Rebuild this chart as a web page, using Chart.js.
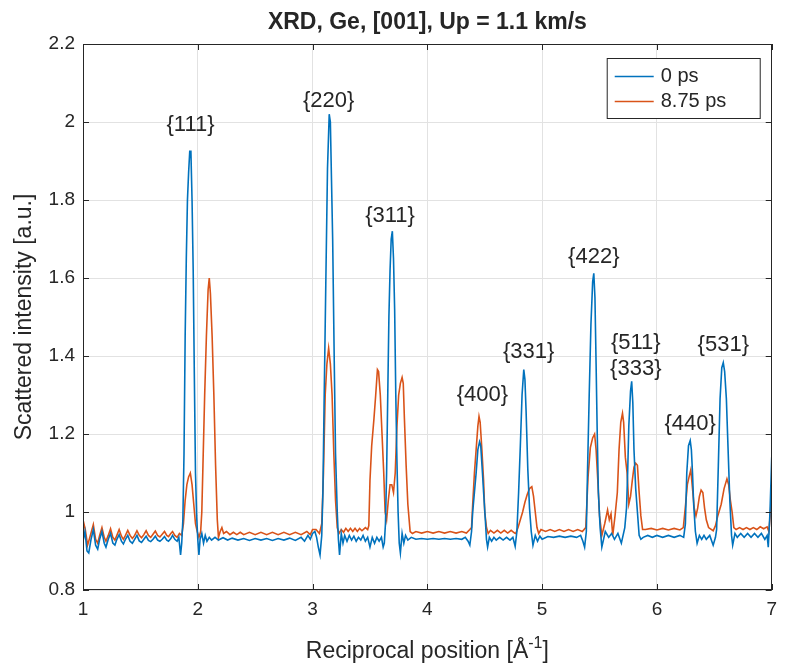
<!DOCTYPE html>
<html><head><meta charset="utf-8">
<script src="https://cdn.jsdelivr.net/npm/chart.js@4.4.1/dist/chart.umd.min.js"></script>
<style>html,body{margin:0;padding:0;background:#fff;overflow:hidden}canvas{display:block}</style>
</head><body>
<canvas id="c" width="785" height="669"></canvas>
<script>
const chartTitle = 'XRD, Ge, [001], Up = 1.1 km/s';
const xLabelMain = 'Reciprocal position [Å';
const xLabelSup = '-1';
const xLabelEnd = ']';
const yLabel = 'Scattered intensity [a.u.]';
const seriesNames = ['0 ps', '8.75 ps'];
const seriesColors = ['#0072BD', '#D95319'];
const xTicks = [1, 2, 3, 4, 5, 6, 7];
const yTicks = [0.8, 1, 1.2, 1.4, 1.6, 1.8, 2, 2.2];
const peakLabels = ['{111}', '{220}', '{311}', '{400}', '{331}', '{422}', '{511}', '{333}', '{440}', '{531}'];
const peakLabelX = [1.937, 3.14, 3.675, 4.48, 4.882, 5.45, 5.816, 5.816, 6.29, 6.578];
const peakLabelY = [1.992, 2.055, 1.759, 1.30, 1.411, 1.653, 1.4325, 1.368, 1.226, 1.428];

// [reciprocal position, intensity] for 0 ps
const blue0ps = [
[1.000,0.925],[1.017,0.95],[1.035,0.90],[1.05,0.895],[1.07,0.93],[1.09,0.955],[1.11,0.915],[1.128,0.905],
[1.145,0.93],[1.165,0.95],[1.185,0.92],[1.20,0.91],[1.22,0.93],[1.24,0.945],[1.26,0.92],[1.278,0.915],
[1.295,0.93],[1.315,0.942],[1.335,0.925],[1.352,0.918],[1.37,0.93],[1.39,0.94],[1.41,0.925],[1.43,0.92],
[1.45,0.93],[1.47,0.94],[1.49,0.926],[1.51,0.922],[1.53,0.93],[1.55,0.938],[1.57,0.927],[1.59,0.924],
[1.61,0.93],[1.63,0.938],[1.65,0.928],[1.67,0.925],[1.69,0.93],[1.71,0.937],[1.73,0.928],[1.745,0.925],
[1.765,0.932],[1.78,0.94],[1.80,0.93],[1.82,0.925],[1.835,0.935],[1.85,0.89],[1.86,0.92],[1.87,0.98],
[1.88,1.15],[1.89,1.45],[1.90,1.65],[1.91,1.80],[1.92,1.87],[1.93,1.925],[1.94,1.925],[1.95,1.80],
[1.96,1.62],[1.97,1.35],[1.98,1.10],[1.99,0.99],[2.00,0.93],[2.01,0.89],[2.02,0.93],[2.035,0.945],
[2.05,0.92],[2.065,0.94],[2.08,0.925],[2.10,0.935],[2.12,0.928],[2.15,0.935],[2.18,0.928],[2.22,0.934],
[2.26,0.928],[2.30,0.933],[2.35,0.928],[2.40,0.932],[2.45,0.927],[2.50,0.932],[2.55,0.928],[2.60,0.932],
[2.65,0.927],[2.70,0.932],[2.75,0.928],[2.80,0.933],[2.85,0.927],[2.90,0.935],[2.93,0.925],[2.96,0.94],
[2.98,0.93],[3.00,0.945],[3.02,0.95],[3.035,0.935],[3.05,0.91],[3.065,0.89],[3.08,0.94],[3.09,1.05],
[3.10,1.27],[3.115,1.58],[3.13,1.88],[3.145,2.02],[3.155,2.00],[3.165,1.85],[3.175,1.70],[3.19,1.36],
[3.20,1.15],[3.215,1.00],[3.225,0.93],[3.235,0.89],[3.25,0.945],[3.265,0.92],[3.28,0.94],[3.30,0.925],
[3.32,0.94],[3.34,0.928],[3.36,0.938],[3.38,0.925],[3.40,0.935],[3.42,0.928],[3.44,0.94],[3.46,0.925],
[3.48,0.935],[3.50,0.91],[3.52,0.935],[3.54,0.92],[3.56,0.935],[3.58,0.925],[3.60,0.935],[3.615,0.91],
[3.625,0.92],[3.635,0.97],[3.645,1.10],[3.655,1.30],[3.665,1.50],[3.675,1.62],[3.685,1.70],[3.695,1.72],
[3.705,1.65],[3.715,1.52],[3.725,1.30],[3.735,1.13],[3.745,1.00],[3.755,0.92],[3.765,0.895],[3.78,0.945],
[3.795,0.92],[3.81,0.94],[3.83,0.928],[3.86,0.935],[3.90,0.93],[3.95,0.932],[4.00,0.93],[4.05,0.932],
[4.10,0.93],[4.15,0.932],[4.20,0.93],[4.25,0.932],[4.30,0.93],[4.33,0.935],[4.355,0.925],[4.37,0.915],
[4.385,0.95],[4.395,1.00],[4.41,1.05],[4.425,1.10],[4.44,1.16],[4.455,1.18],[4.465,1.17],[4.48,1.10],
[4.49,1.05],[4.505,0.98],[4.515,0.93],[4.525,0.91],[4.54,0.935],[4.56,0.925],[4.58,0.935],[4.60,0.928],
[4.63,0.935],[4.66,0.928],[4.69,0.935],[4.72,0.928],[4.745,0.935],[4.765,0.912],[4.78,0.95],[4.795,1.05],
[4.81,1.17],[4.825,1.30],[4.84,1.365],[4.85,1.34],[4.86,1.26],[4.875,1.11],[4.89,1.01],[4.905,0.95],
[4.92,0.915],[4.94,0.94],[4.96,0.925],[4.98,0.938],[5.00,0.93],[5.05,0.937],[5.10,0.935],[5.15,0.938],
[5.20,0.935],[5.25,0.938],[5.30,0.935],[5.335,0.94],[5.355,0.925],[5.37,0.91],[5.385,0.95],[5.395,1.10],
[5.41,1.30],[5.425,1.48],[5.44,1.59],[5.45,1.612],[5.46,1.55],[5.47,1.38],[5.48,1.20],[5.49,1.05],
[5.505,0.96],[5.52,0.91],[5.535,0.93],[5.55,0.95],[5.58,0.935],[5.605,0.945],[5.63,0.93],[5.66,0.945],
[5.69,0.92],[5.72,0.96],[5.735,1.01],[5.745,1.10],[5.755,1.22],[5.77,1.31],[5.78,1.335],[5.79,1.28],
[5.80,1.16],[5.815,1.06],[5.83,1.00],[5.845,0.94],[5.86,0.93],[5.88,0.935],[5.92,0.94],[5.96,0.935],
[6.00,0.94],[6.05,0.935],[6.10,0.94],[6.15,0.935],[6.20,0.94],[6.233,0.935],[6.248,0.97],[6.26,1.10],
[6.275,1.17],[6.29,1.183],[6.30,1.16],[6.31,1.10],[6.32,1.02],[6.335,0.95],[6.35,0.92],[6.37,0.94],
[6.39,0.93],[6.41,0.94],[6.43,0.93],[6.46,0.94],[6.49,0.915],[6.51,0.935],[6.52,0.955],[6.535,1.12],
[6.55,1.29],[6.565,1.37],[6.578,1.383],[6.59,1.36],[6.605,1.29],[6.62,1.16],[6.635,1.03],[6.65,0.94],
[6.66,0.915],[6.68,0.945],[6.70,0.935],[6.73,0.945],[6.76,0.935],[6.79,0.945],[6.82,0.935],[6.85,0.945],
[6.88,0.935],[6.91,0.945],[6.94,0.93],[6.96,0.94],[6.97,0.91],[6.985,1.00],[7.00,1.14]
];

// [reciprocal position, intensity] for 8.75 ps
const orange875ps = [
[1.000,0.98],[1.02,0.955],[1.04,0.915],[1.055,0.93],[1.09,0.968],[1.11,0.93],[1.128,0.92],[1.145,0.94],
[1.165,0.96],[1.185,0.935],[1.20,0.925],[1.22,0.94],[1.24,0.957],[1.26,0.935],[1.278,0.928],[1.295,0.94],
[1.315,0.955],[1.335,0.938],[1.352,0.93],[1.37,0.94],[1.39,0.953],[1.41,0.94],[1.43,0.932],[1.45,0.94],
[1.47,0.952],[1.49,0.94],[1.51,0.934],[1.53,0.942],[1.55,0.952],[1.57,0.94],[1.59,0.935],[1.61,0.943],
[1.63,0.951],[1.65,0.94],[1.67,0.936],[1.69,0.943],[1.71,0.95],[1.73,0.94],[1.745,0.937],[1.765,0.945],
[1.78,0.95],[1.80,0.94],[1.82,0.935],[1.84,0.945],[1.86,0.94],[1.875,0.97],[1.89,1.03],[1.905,1.07],
[1.92,1.09],[1.935,1.10],[1.95,1.07],[1.965,1.02],[1.98,0.97],[1.995,0.95],[2.01,0.935],[2.025,0.95],
[2.035,1.00],[2.045,1.12],[2.06,1.30],[2.075,1.45],[2.09,1.57],[2.10,1.60],[2.11,1.56],[2.125,1.45],
[2.14,1.30],[2.155,1.12],[2.17,0.98],[2.18,0.935],[2.195,0.95],[2.21,0.96],[2.225,0.945],[2.25,0.95],
[2.28,0.942],[2.31,0.948],[2.34,0.942],[2.37,0.948],[2.40,0.942],[2.45,0.948],[2.50,0.942],[2.55,0.948],
[2.60,0.942],[2.65,0.948],[2.70,0.942],[2.75,0.948],[2.80,0.942],[2.85,0.948],[2.90,0.942],[2.95,0.95],
[2.98,0.942],[3.00,0.955],[3.03,0.955],[3.06,0.945],[3.08,0.97],[3.095,1.10],[3.11,1.30],[3.125,1.38],
[3.14,1.42],[3.155,1.38],[3.17,1.30],[3.185,1.15],[3.20,1.03],[3.215,0.96],[3.23,0.945],[3.25,0.955],
[3.27,0.948],[3.29,0.958],[3.31,0.95],[3.33,0.958],[3.35,0.95],[3.37,0.958],[3.39,0.95],[3.41,0.958],
[3.43,0.952],[3.46,0.96],[3.48,0.955],[3.49,0.965],[3.50,1.08],[3.515,1.17],[3.535,1.24],[3.55,1.30],
[3.565,1.365],[3.575,1.36],[3.59,1.30],[3.605,1.20],[3.62,1.10],[3.632,1.00],[3.645,0.98],[3.66,1.03],
[3.675,1.07],[3.69,1.07],[3.705,1.05],[3.72,1.10],[3.735,1.22],[3.75,1.30],[3.765,1.33],[3.78,1.345],
[3.79,1.33],[3.80,1.24],[3.815,1.12],[3.83,1.02],[3.85,0.95],[3.87,0.945],[3.90,0.95],[3.95,0.946],
[4.00,0.95],[4.05,0.946],[4.10,0.95],[4.15,0.946],[4.20,0.95],[4.25,0.946],[4.30,0.95],[4.34,0.946],
[4.37,0.955],[4.385,0.96],[4.395,1.02],[4.41,1.10],[4.425,1.16],[4.44,1.22],[4.45,1.245],[4.46,1.23],
[4.475,1.16],[4.49,1.08],[4.50,1.00],[4.515,0.96],[4.53,0.945],[4.55,0.953],[4.58,0.946],[4.61,0.953],
[4.64,0.946],[4.67,0.953],[4.70,0.946],[4.73,0.953],[4.76,0.946],[4.77,0.945],[4.79,0.96],[4.81,0.98],
[4.83,1.00],[4.85,1.025],[4.87,1.045],[4.89,1.06],[4.91,1.065],[4.925,1.04],[4.94,1.00],[4.955,0.96],
[4.97,0.945],[4.99,0.955],[5.03,0.95],[5.07,0.955],[5.11,0.95],[5.15,0.955],[5.19,0.95],[5.23,0.955],
[5.27,0.95],[5.31,0.955],[5.35,0.95],[5.38,0.96],[5.40,1.09],[5.42,1.165],[5.44,1.19],[5.457,1.20],
[5.47,1.16],[5.485,1.08],[5.50,0.99],[5.52,0.94],[5.545,0.97],[5.57,1.005],[5.585,0.98],[5.60,0.995],
[5.615,0.94],[5.635,0.99],[5.655,1.05],[5.67,1.16],[5.685,1.23],[5.70,1.253],[5.71,1.23],[5.725,1.14],
[5.74,1.10],[5.755,1.02],[5.77,1.04],[5.785,1.08],[5.80,1.115],[5.815,1.125],[5.83,1.12],[5.845,1.05],
[5.86,0.99],[5.875,0.955],[5.90,0.955],[5.95,0.958],[6.00,0.954],[6.05,0.958],[6.10,0.954],[6.15,0.958],
[6.20,0.954],[6.23,0.96],[6.25,1.02],[6.265,1.07],[6.28,1.09],[6.295,1.108],[6.31,1.06],[6.325,1.01],
[6.34,0.99],[6.355,1.01],[6.37,1.04],[6.385,1.056],[6.40,1.05],[6.415,1.01],[6.43,0.98],[6.45,0.96],
[6.49,0.952],[6.51,0.965],[6.53,0.99],[6.56,1.02],[6.585,1.06],[6.61,1.085],[6.625,1.07],[6.64,1.03],
[6.655,1.00],[6.67,0.96],[6.69,0.955],[6.72,0.96],[6.75,0.955],[6.78,0.96],[6.81,0.955],[6.84,0.96],
[6.87,0.955],[6.90,0.962],[6.93,0.957],[6.96,0.962],[6.975,0.95],[6.99,1.00],[7.00,1.07]
];

const FONT = '"Liberation Sans", Arial, Helvetica, sans-serif';
const TXT = '#262626';

const decor = {
  id: 'decor',
  afterDraw(chart) {
    const {ctx, chartArea: a, scales: {x, y}} = chart;
    ctx.save();
    // axes box
    ctx.strokeStyle = TXT; ctx.lineWidth = 1;
    ctx.strokeRect(Math.round(a.left) + 0.5, Math.round(a.top) + 0.5, Math.round(a.right - a.left) - 1, Math.round(a.bottom - a.top) - 1);
    // inward ticks
    ctx.beginPath();
    const tl = 6;
    xTicks.forEach(v => {
      const px = Math.round(x.getPixelForValue(v)) + 0.5;
      ctx.moveTo(px, a.bottom); ctx.lineTo(px, a.bottom - tl);
      ctx.moveTo(px, a.top); ctx.lineTo(px, a.top + tl);
    });
    yTicks.forEach(v => {
      const py = Math.round(y.getPixelForValue(v)) + 0.5;
      ctx.moveTo(a.left, py); ctx.lineTo(a.left + tl, py);
      ctx.moveTo(a.right, py); ctx.lineTo(a.right - tl, py);
    });
    ctx.stroke();
    // peak annotations
    ctx.fillStyle = TXT; ctx.textAlign = 'center'; ctx.textBaseline = 'middle';
    ctx.font = '22px ' + FONT;
    peakLabels.forEach((t, i) => ctx.fillText(t, x.getPixelForValue(peakLabelX[i]), y.getPixelForValue(peakLabelY[i])));
    // title
    ctx.font = 'bold 23px ' + FONT;
    ctx.fillText(chartTitle, (a.left + a.right) / 2, 23);
    // x label with superscript
    ctx.font = '23px ' + FONT;
    const w1 = ctx.measureText(xLabelMain).width;
    const w3 = ctx.measureText(xLabelEnd).width;
    ctx.font = '16px ' + FONT;
    const w2 = ctx.measureText(xLabelSup).width;
    let sx = (a.left + a.right) / 2 - (w1 + w2 + w3) / 2;
    const ly = 652;
    ctx.textAlign = 'left';
    ctx.font = '23px ' + FONT; ctx.fillText(xLabelMain, sx, ly);
    ctx.font = '16px ' + FONT; ctx.fillText(xLabelSup, sx + w1, ly - 8);
    ctx.font = '23px ' + FONT; ctx.fillText(xLabelEnd, sx + w1 + w2, ly);
    // y label
    ctx.save();
    ctx.translate(25, (a.top + a.bottom) / 2);
    ctx.rotate(-Math.PI / 2);
    ctx.textAlign = 'center';
    ctx.font = '23px ' + FONT;
    ctx.fillText(yLabel, 0, 0);
    ctx.restore();
    // legend
    const lx = a.right - 165, ly0 = a.top + 14, lw = 153, lh = 60;
    ctx.fillStyle = '#fff';
    ctx.fillRect(lx, ly0, lw, lh);
    ctx.strokeStyle = TXT; ctx.lineWidth = 1;
    ctx.strokeRect(lx + 0.5, ly0 + 0.5, lw, lh);
    ctx.font = '20px ' + FONT; ctx.textAlign = 'left'; ctx.textBaseline = 'middle';
    seriesNames.forEach((n, i) => {
      const yy = ly0 + 18 + i * 25;
      ctx.strokeStyle = seriesColors[i]; ctx.lineWidth = 1.6;
      ctx.beginPath(); ctx.moveTo(lx + 8, yy + 0.5); ctx.lineTo(lx + 47, yy + 0.5); ctx.stroke();
      ctx.fillStyle = TXT; ctx.fillText(n, lx + 54, yy);
    });
    ctx.restore();
  }
};

const toPts = arr => arr.map(p => ({x: p[0], y: p[1]}));

new Chart(document.getElementById('c'), {
  type: 'line',
  data: {
    datasets: [
      {label: seriesNames[0], data: toPts(blue0ps), borderColor: seriesColors[0], borderWidth: 1.6, pointRadius: 0, tension: 0, fill: false},
      {label: seriesNames[1], data: toPts(orange875ps), borderColor: seriesColors[1], borderWidth: 1.6, pointRadius: 0, tension: 0, fill: false}
    ]
  },
  options: {
    responsive: false, animation: false, devicePixelRatio: 1,
    layout: {padding: {top: 44, right: 6, left: 0, bottom: 0}},
    plugins: {legend: {display: false}, title: {display: false}, tooltip: {enabled: false}},
    scales: {
      x: {
        type: 'linear', min: 1, max: 7,
        afterBuildTicks: s => { s.ticks = xTicks.map(v => ({value: v})); },
        afterFit: s => { s.height = 79; },
        grid: {color: '#e2e2e2', drawTicks: false, lineWidth: 1},
        border: {display: false},
        ticks: {color: TXT, font: {family: FONT, size: 19}, padding: 8, maxRotation: 0, callback: v => String(v)}
      },
      y: {
        type: 'linear', min: 0.8, max: 2.2,
        afterBuildTicks: s => { s.ticks = yTicks.map(v => ({value: v})); },
        afterFit: s => { s.width = 83; },
        grid: {color: '#e2e2e2', drawTicks: false, lineWidth: 1},
        border: {display: false},
        ticks: {color: TXT, font: {family: FONT, size: 19}, padding: 8, callback: v => String(Math.round(v * 10) / 10)}
      }
    }
  },
  plugins: [decor]
});
</script>
</body></html>
